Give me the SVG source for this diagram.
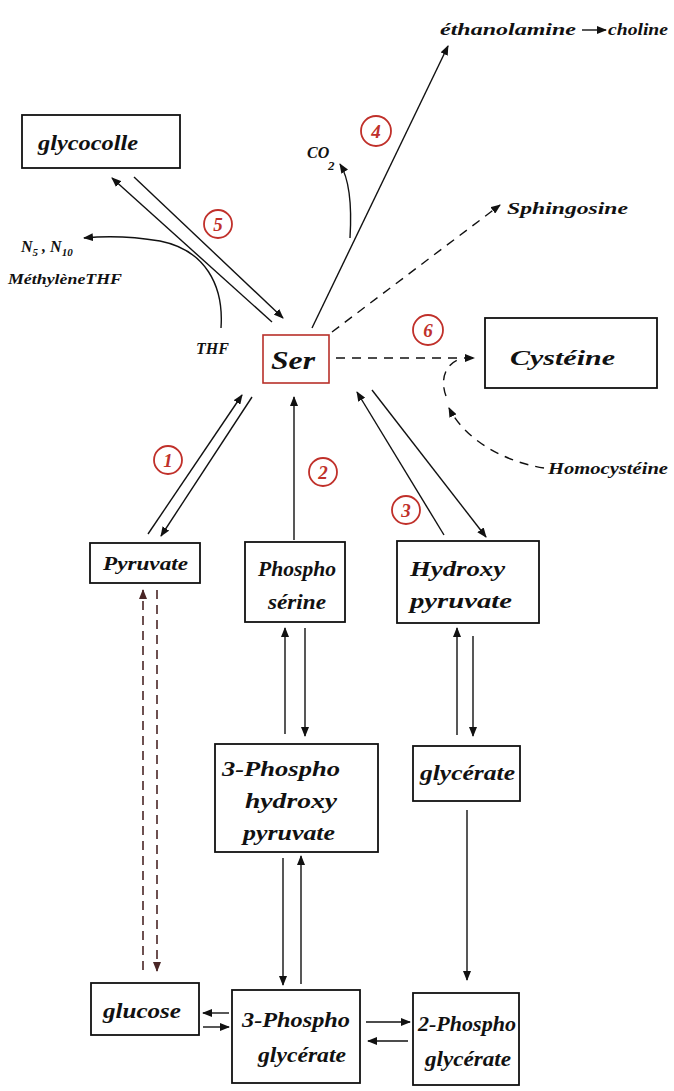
<svg xmlns="http://www.w3.org/2000/svg" width="674" height="1091" viewBox="0 0 674 1091">
  <style>
    .box { fill: none; stroke: #111; stroke-width: 1.8; }
    .ser { fill: none; stroke: #b8302a; stroke-width: 1.6; }
    .lbl { font-family: "Liberation Serif", serif; font-style: italic; font-weight: bold; fill: #111; }
    .ln { fill: none; stroke: #111; stroke-width: 1.4; }
    .dash { fill: none; stroke: #111; stroke-width: 1.4; stroke-dasharray: 9 7; }
    .rdash { fill: none; stroke: #4a2626; stroke-width: 1.6; stroke-dasharray: 9 6; }
    .step circle { fill: none; stroke: #c0302a; stroke-width: 1.8; }
    .step text { font-family: "Liberation Serif", serif; font-style: italic; font-weight: bold; font-size: 19px; fill: #c0302a; text-anchor: middle; }
  </style>
  <defs>
    <marker id="ah" viewBox="0 0 10 8" refX="9" refY="4" markerWidth="10" markerHeight="8" markerUnits="userSpaceOnUse" orient="auto">
      <path d="M0,0 L10,4 L0,8 z" fill="#111"/>
    </marker>
    <marker id="ahr" viewBox="0 0 10 8" refX="9" refY="4" markerWidth="10" markerHeight="8" markerUnits="userSpaceOnUse" orient="auto">
      <path d="M0,0 L10,4 L0,8 z" fill="#4a2626"/>
    </marker>
  </defs>
  <rect width="674" height="1091" fill="#ffffff"/>

  <!-- connectors -->
  <g id="connectors">
    <!-- Ser to ethanolamine -->
    <line class="ln" x1="312" y1="328" x2="448" y2="46" marker-end="url(#ah)"/>
    <!-- CO2 release -->
    <path class="ln" d="M350,238 C352,205 350,180 340,164" marker-end="url(#ah)"/>
    <!-- Ser / glycocolle -->
    <line class="ln" x1="272" y1="322" x2="112" y2="178" marker-end="url(#ah)"/>
    <line class="ln" x1="134" y1="177" x2="283" y2="318" marker-end="url(#ah)"/>
    <!-- THF to N5,N10 methylene THF -->
    <path class="ln" d="M221,328 C224,285 205,250 160,241 C130,236 105,236 84,238" marker-end="url(#ah)"/>
    <!-- Ser to sphingosine -->
    <line class="dash" x1="332" y1="332" x2="500" y2="205" marker-end="url(#ah)"/>
    <!-- Ser to cysteine -->
    <line class="dash" x1="336" y1="358" x2="474" y2="358" marker-end="url(#ah)"/>
    <!-- homocysteine -->
    <path class="dash" d="M544,468 C505,462 465,440 449,408" marker-end="url(#ah)"/>
    <path class="dash" d="M446,396 C440,380 445,364 460,359"/>
    <!-- Ser / pyruvate -->
    <line class="ln" x1="148" y1="534" x2="242" y2="395" marker-end="url(#ah)"/>
    <line class="ln" x1="252" y1="397" x2="161" y2="536" marker-end="url(#ah)"/>
    <!-- phosphoserine to Ser -->
    <line class="ln" x1="294" y1="540" x2="294" y2="397" marker-end="url(#ah)"/>
    <!-- Ser / hydroxypyruvate -->
    <line class="ln" x1="444" y1="535" x2="357" y2="392" marker-end="url(#ah)"/>
    <line class="ln" x1="372" y1="390" x2="486" y2="537" marker-end="url(#ah)"/>
    <!-- pyruvate / glucose -->
    <line class="rdash" x1="143" y1="970" x2="143" y2="590" marker-end="url(#ahr)"/>
    <line class="rdash" x1="157" y1="590" x2="157" y2="971" marker-end="url(#ahr)"/>
    <!-- phosphoserine / 3-phosphohydroxypyruvate -->
    <line class="ln" x1="285" y1="734" x2="285" y2="628" marker-end="url(#ah)"/>
    <line class="ln" x1="305" y1="628" x2="305" y2="736" marker-end="url(#ah)"/>
    <!-- hydroxypyruvate / glycerate -->
    <line class="ln" x1="457" y1="735" x2="457" y2="628" marker-end="url(#ah)"/>
    <line class="ln" x1="473" y1="636" x2="473" y2="736" marker-end="url(#ah)"/>
    <!-- glycerate to 2-phosphoglycerate -->
    <line class="ln" x1="467" y1="810" x2="467" y2="980" marker-end="url(#ah)"/>
    <!-- 3-phosphohydroxypyruvate / 3-phosphoglycerate -->
    <line class="ln" x1="283" y1="858" x2="283" y2="985" marker-end="url(#ah)"/>
    <line class="ln" x1="301" y1="984" x2="301" y2="856" marker-end="url(#ah)"/>
    <!-- glucose / 3-phosphoglycerate -->
    <line class="ln" x1="229" y1="1013" x2="203" y2="1013" marker-end="url(#ah)"/>
    <line class="ln" x1="203" y1="1027" x2="229" y2="1027" marker-end="url(#ah)"/>
    <!-- 3-phosphoglycerate / 2-phosphoglycerate -->
    <line class="ln" x1="366" y1="1022" x2="410" y2="1022" marker-end="url(#ah)"/>
    <line class="ln" x1="408" y1="1041" x2="368" y2="1041" marker-end="url(#ah)"/>
    <!-- ethanolamine to choline -->
    <line class="ln" x1="582" y1="30" x2="606" y2="30" marker-end="url(#ah)"/>
  </g>

  <!-- step numbers -->
  <g id="steps" class="step">
    <g id="step1"><circle cx="168" cy="460" r="14"/><text x="168" y="467">1</text></g>
    <g id="step2"><circle cx="323" cy="472" r="14"/><text x="323" y="479">2</text></g>
    <g id="step3"><circle cx="406" cy="510" r="14"/><text x="406" y="517">3</text></g>
    <g id="step4"><circle cx="376" cy="131" r="15"/><text x="376" y="138">4</text></g>
    <g id="step5"><circle cx="218" cy="224" r="14"/><text x="218" y="231">5</text></g>
    <g id="step6"><circle cx="428" cy="330" r="15"/><text x="428" y="337">6</text></g>
  </g>

  <!-- free labels -->
  <g id="ethanolamine">
    <text class="lbl" x="440" y="35" font-size="17" textLength="136" lengthAdjust="spacingAndGlyphs">éthanolamine</text>
    <text class="lbl" x="608" y="35" font-size="17" textLength="60" lengthAdjust="spacingAndGlyphs">choline</text>
  </g>
  <g id="co2">
    <text class="lbl" x="307" y="158" font-size="16">CO</text>
    <text class="lbl" x="328" y="170" font-size="13">2</text>
  </g>
  <g id="sphingosine">
    <text class="lbl" x="507" y="214" font-size="17" textLength="121" lengthAdjust="spacingAndGlyphs">Sphingosine</text>
  </g>
  <g id="methylene-thf">
    <text class="lbl" x="21" y="252" font-size="16">N<tspan font-size="11" dy="4">5</tspan><tspan dy="-4"> , N</tspan><tspan font-size="11" dy="4">10</tspan></text>
    <text class="lbl" x="8" y="284" font-size="15" textLength="114" lengthAdjust="spacingAndGlyphs">MéthylèneTHF</text>
  </g>
  <g id="thf">
    <text class="lbl" x="196" y="354" font-size="16">THF</text>
  </g>
  <g id="homocysteine">
    <text class="lbl" x="548" y="474" font-size="16" textLength="120" lengthAdjust="spacingAndGlyphs">Homocystéine</text>
  </g>

  <!-- nodes -->
  <g id="glycocolle">
    <rect class="box" x="22" y="115" width="158" height="53"/>
    <text class="lbl" x="38" y="150" font-size="20" textLength="100" lengthAdjust="spacingAndGlyphs">glycocolle</text>
  </g>
  <g id="ser">
    <rect class="ser" x="263" y="335" width="66" height="48"/>
    <text class="lbl" x="271" y="369" font-size="25" textLength="44" lengthAdjust="spacingAndGlyphs">Ser</text>
  </g>
  <g id="cysteine">
    <rect class="box" x="485" y="318" width="172" height="70"/>
    <text class="lbl" x="510" y="365" font-size="22" textLength="105" lengthAdjust="spacingAndGlyphs">Cystéine</text>
  </g>
  <g id="pyruvate">
    <rect class="box" x="90" y="543" width="110" height="40"/>
    <text class="lbl" x="103" y="570" font-size="19" textLength="85" lengthAdjust="spacingAndGlyphs">Pyruvate</text>
  </g>
  <g id="phosphoserine">
    <rect class="box" x="245" y="542" width="100" height="80"/>
    <text class="lbl" x="258" y="576" font-size="20" textLength="78" lengthAdjust="spacingAndGlyphs">Phospho</text>
    <text class="lbl" x="268" y="609" font-size="20" textLength="58" lengthAdjust="spacingAndGlyphs">sérine</text>
  </g>
  <g id="hydroxypyruvate">
    <rect class="box" x="397" y="541" width="142" height="82"/>
    <text class="lbl" x="410" y="576" font-size="21" textLength="95" lengthAdjust="spacingAndGlyphs">Hydroxy</text>
    <text class="lbl" x="410" y="608" font-size="21" textLength="102" lengthAdjust="spacingAndGlyphs">pyruvate</text>
  </g>
  <g id="phosphohydroxypyruvate">
    <rect class="box" x="215" y="744" width="163" height="108"/>
    <text class="lbl" x="222" y="776" font-size="21" textLength="118" lengthAdjust="spacingAndGlyphs">3-Phospho</text>
    <text class="lbl" x="245" y="808" font-size="21" textLength="92" lengthAdjust="spacingAndGlyphs">hydroxy</text>
    <text class="lbl" x="243" y="840" font-size="21" textLength="92" lengthAdjust="spacingAndGlyphs">pyruvate</text>
  </g>
  <g id="glycerate">
    <rect class="box" x="413" y="746" width="107" height="55"/>
    <text class="lbl" x="420" y="780" font-size="20" textLength="95" lengthAdjust="spacingAndGlyphs">glycérate</text>
  </g>
  <g id="glucose">
    <rect class="box" x="91" y="983" width="108" height="52"/>
    <text class="lbl" x="103" y="1018" font-size="20" textLength="78" lengthAdjust="spacingAndGlyphs">glucose</text>
  </g>
  <g id="phosphoglycerate3">
    <rect class="box" x="232" y="990" width="128" height="93"/>
    <text class="lbl" x="242" y="1027" font-size="21" textLength="108" lengthAdjust="spacingAndGlyphs">3-Phospho</text>
    <text class="lbl" x="258" y="1062" font-size="21" textLength="88" lengthAdjust="spacingAndGlyphs">glycérate</text>
  </g>
  <g id="phosphoglycerate2">
    <rect class="box" x="413" y="993" width="106" height="92"/>
    <text class="lbl" x="418" y="1031" font-size="20" textLength="98" lengthAdjust="spacingAndGlyphs">2-Phospho</text>
    <text class="lbl" x="425" y="1066" font-size="20" textLength="86" lengthAdjust="spacingAndGlyphs">glycérate</text>
  </g>
</svg>
